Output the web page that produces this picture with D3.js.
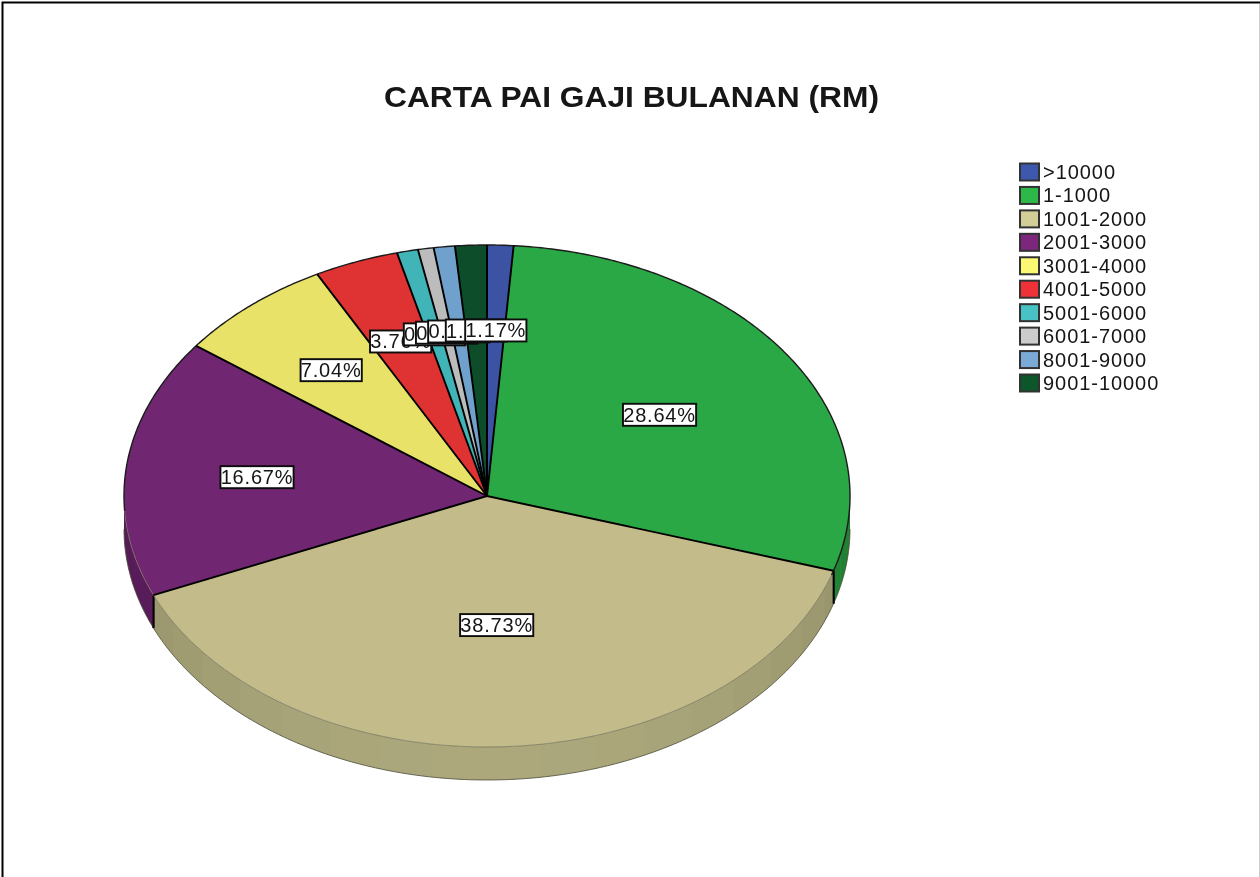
<!DOCTYPE html>
<html><head><meta charset="utf-8">
<script src="https://cdn.jsdelivr.net/npm/d3@7"></script>
<style>html,body{margin:0;padding:0;background:#fff;overflow:hidden}svg{display:block}
text{font-family:"Liberation Sans",Arial,sans-serif;fill:#141414}</style></head><body>
<script>
const categories=[">10000","1-1000","1001-2000","2001-3000","3001-4000","4001-5000","5001-6000","6001-7000","8001-9000","9001-10000"];
const percents=[1.17,28.64,38.73,16.67,7.04,3.76,0.94,0.70,0.94,1.41];
const legendColors=["#3e58ac","#2eb848","#d3ce97","#7c287d","#fbf873","#ef3338","#48c2c5","#cccccc","#7aaad5","#0a562c"];
const sliceColors=["#3a52a2","#2ca845","#c3bc8a","#702670","#e8e268","#df3232","#3fb4b6","#bcbcbc","#70a0cc","#0b4d2c"];
const labelRadius=[.66,.575,.515,.638,.66,.66,.66,.66,.66,.66];
const titleText="CARTA PAI GAJI BULANAN (RM)";

const W=1260,H=877,cx=487,cy=496,rx=363,ry=251,depth=33;
const svg=d3.select("body").append("svg").attr("width",W).attr("height",H);
svg.append("defs").append("filter").attr("id","soft").attr("x","-5%").attr("y","-5%").attr("width","110%").attr("height","110%")
  .append("feGaussianBlur").attr("stdDeviation",.55);
svg.append("rect").attr("width",W).attr("height",H).attr("fill","#fff");
const root=svg.append("g").attr("filter","url(#soft)");

const sx=d3.scaleLinear([-1,1],[cx-rx,cx+rx]);
const sy=d3.scaleLinear([-1,1],[cy-ry,cy+ry]);
const arcs=d3.pie().sort(null).value(d=>d).startAngle(0).endAngle(2*Math.PI)(percents);
const line=d3.line();
const topPt=a=>[sx(Math.sin(a)),sy(-Math.cos(a))];
const botPt=a=>[topPt(a)[0],topPt(a)[1]+depth];
const samples=(s,e)=>d3.range(s,e,.01).concat([e]);
const shade=(c,k)=>{const q=d3.rgb(c);return d3.rgb(q.r*k,q.g*k,q.b*k).formatHex();};

// side wall: only the front half of the ellipse is visible
const wall=root.append("g");
const facet=Math.PI/21;
arcs.forEach((d,i)=>{
  const a0=Math.max(d.startAngle,Math.PI/2),a1=Math.min(d.endAngle,Math.PI*1.5);
  if(a1<=a0) return;
  const breaks=[a0,...d3.range(Math.ceil(a0/facet)*facet,a1,facet),a1];
  d3.pairs(breaks).forEach(([s,e])=>{
    if(e-s<1e-6) return;
    const k=.66+.155*Math.pow(Math.abs(Math.cos((s+e)/2)),.8);
    const steps=samples(s,Math.min(e+.006,a1));
    wall.append("path").attr("d",line([...steps.map(topPt),...steps.slice().reverse().map(botPt)])+"Z")
      .attr("fill",shade(legendColors[i],k));
  });
  wall.append("path").attr("d",line(samples(a0,a1).map(botPt))).attr("fill","none").attr("stroke","#4a4a38").attr("stroke-width",.8);
  [d.startAngle,d.endAngle].forEach(a=>{
    if(a>=Math.PI/2&&a<=Math.PI*1.5) wall.append("path").attr("d",line([topPt(a),botPt(a)])).attr("stroke","#000").attr("stroke-width",1.8);
  });
});

// top face
const arc=d3.arc().innerRadius(0).outerRadius(rx);
const topFace=root.append("g").attr("transform",`translate(${cx},${cy}) scale(1,${ry/rx})`);
topFace.selectAll("path").data(arcs).join("path").attr("d",arc).attr("fill",(d,i)=>sliceColors[i]);
// rim: firm along the back, faint along the front
root.append("path").attr("d",line(samples(-Math.PI/2-.06,Math.PI/2+.32).map(topPt))).attr("fill","none").attr("stroke","#1a1a1a").attr("stroke-width",1.4);
root.append("path").attr("d",line(samples(Math.PI/2+.32,Math.PI*1.5-.06).map(topPt))).attr("fill","none").attr("stroke","#6a6850").attr("stroke-width",.7);
// slice borders
root.append("g").selectAll("path").data(arcs).join("path")
  .attr("d",d=>line([[cx,cy],topPt(d.startAngle)])).attr("stroke","#000").attr("stroke-width",1.9);

// data labels: each one is covered by the next to its right, and >10000 lies on top
const labels=root.append("g");
const boxH=22;
const order=d3.range(1,percents.length).concat([0]);
order.forEach(i=>{
  const d=arcs[i],mid=(d.startAngle+d.endAngle)/2,r=labelRadius[i];
  const x=sx(r*Math.sin(mid)),y=sy(-r*Math.cos(mid));
  const g=labels.append("g").attr("transform",`translate(${x},${y})`);
  const rect=g.append("rect").attr("fill","#fff").attr("stroke","#0c0c0c").attr("stroke-width",1.9);
  const t=g.append("text").attr("text-anchor","middle").attr("y",7).attr("font-size",20).attr("letter-spacing",.8)
    .text(d3.format(".2f")(percents[i])+"%");
  const w=t.node().getComputedTextLength()+.5;
  rect.attr("x",-w/2).attr("y",-boxH/2).attr("width",w).attr("height",boxH);
});

// title
root.append("text").attr("x",631.5).attr("y",107).attr("text-anchor","middle")
  .attr("font-size",30).attr("font-weight","bold")
  .attr("textLength",495).attr("lengthAdjust","spacingAndGlyphs").text(titleText);

// legend
const ly=d3.scalePoint(categories,[172,383]);
const leg=root.append("g").selectAll("g").data(categories).join("g").attr("transform",d=>`translate(0,${ly(d)})`);
leg.append("rect").attr("x",1020).attr("y",-8.5).attr("width",19).attr("height",17)
  .attr("fill",(d,i)=>legendColors[i]).attr("stroke","#333").attr("stroke-width",2);
leg.append("text").attr("x",1043).attr("y",7).attr("font-size",20).attr("letter-spacing",.95).text(d=>d);

// page frame
root.append("path").attr("d",line([[2.5,H+5],[2.5,2.5],[W+5,2.5]])).attr("fill","none").attr("stroke","#000").attr("stroke-width",2);
root.append("path").attr("d",line([[1259.5,4],[1259.5,H+5]])).attr("fill","none").attr("stroke","#ccc").attr("stroke-width",1);
</script></body></html>
